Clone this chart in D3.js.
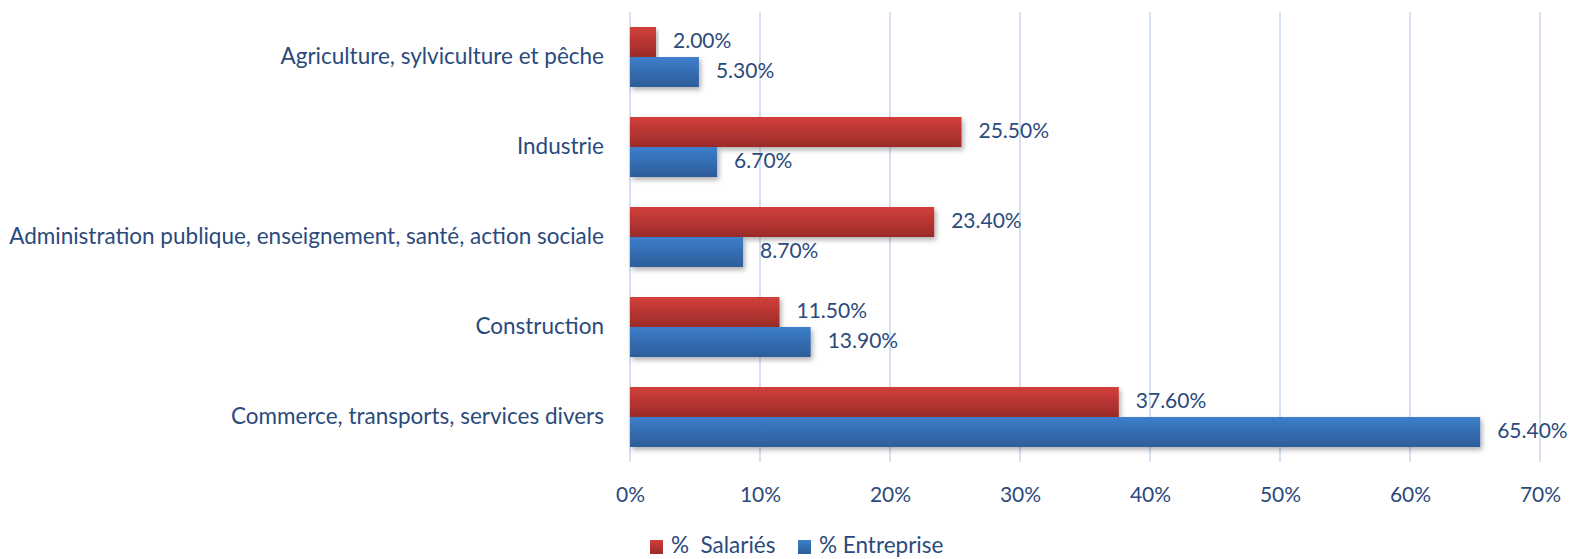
<!DOCTYPE html>
<html>
<head>
<meta charset="utf-8">
<script src="https://cdn.jsdelivr.net/npm/d3@7"></script>
<style>
  html, body { margin: 0; padding: 0; background: #fff; }
  svg { display: block; }
  text { font-family: Lato, "Open Sans", sans-serif; fill: #2b4a7c; }
</style>
</head>
<body>
<svg id="chart" width="1576" height="559"></svg>
<script>
// Sector shares
const categories = [
  "Agriculture, sylviculture et pêche",
  "Industrie",
  "Administration publique, enseignement, santé, action sociale",
  "Construction",
  "Commerce, transports, services divers"
];
const salaries   = [2.0, 25.5, 23.4, 11.5, 37.6];
const entreprise = [5.3, 6.7, 8.7, 13.9, 65.4];
const seriesNames = ["%  Salariés", "% Entreprise"];
const xTicks = [0, 10, 20, 30, 40, 50, 60, 70];

const svg = d3.select("#chart");
const margin = { left: 630, right: 36, top: 12, bottom: 97 };
const W = 1576, H = 559;

const x = d3.scaleLinear().domain([0, 70]).range([margin.left, W - margin.right]);
const y = d3.scaleBand().domain(categories).range([margin.top, H - margin.bottom]).paddingInner(1/3).paddingOuter(1/6);
const inner = d3.scaleBand().domain([0, 1]).range([0, y.bandwidth()]);

const defs = svg.append("defs");
function grad(id, top, bottom) {
  const g = defs.append("linearGradient").attr("id", id).attr("x1", 0).attr("y1", 0).attr("x2", 0).attr("y2", 1);
  g.append("stop").attr("offset", "0%").attr("stop-color", top);
  g.append("stop").attr("offset", "100%").attr("stop-color", bottom);
}
grad("gRed", "#d23f3b", "#9a2b28");
grad("gBlue", "#3d7ecb", "#2d5d9a");
const f = defs.append("filter").attr("id", "shadow").attr("x", "-5%").attr("y", "-20%").attr("width", "115%").attr("height", "160%");
f.append("feDropShadow").attr("dx", 2).attr("dy", 3).attr("stdDeviation", 2.5).attr("flood-color", "#000").attr("flood-opacity", 0.3);

// vertical gridlines
svg.append("g").selectAll("line").data(xTicks).join("line")
  .attr("x1", d => x(d)).attr("x2", d => x(d))
  .attr("y1", margin.top).attr("y2", H - margin.bottom)
  .attr("stroke", "#d5e1f0").attr("stroke-width", 2);

// tick labels
const xAxis = d3.axisBottom(x).tickValues(xTicks).tickFormat(d => d + "%").tickSize(0).tickPadding(0);
const ax = svg.append("g").attr("transform", `translate(0,${H - margin.bottom + 40})`).call(xAxis);
ax.select(".domain").remove();
ax.selectAll("text").attr("fill", "#2b4a7c").style("font-size", "21px").style("font-family", "Lato, sans-serif").attr("dy", "0");

// category labels
svg.append("g").selectAll("text").data(categories).join("text")
  .attr("x", margin.left - 26)
  .attr("y", d => y(d) + y.bandwidth() / 2 + 1)
  .attr("text-anchor", "end").attr("dominant-baseline", "middle")
  .style("font-size", "22.5px")
  .text(d => d);

const series = [
  { values: salaries, fill: "url(#gRed)" },
  { values: entreprise, fill: "url(#gBlue)" }
];

series.forEach((s, si) => {
  const g = svg.append("g");
  g.selectAll("rect").data(categories).join("rect")
    .attr("x", x(0))
    .attr("y", (c) => y(c) + inner(si))
    .attr("width", (c, i) => x(s.values[i]) - x(0))
    .attr("height", inner.bandwidth())
    .attr("fill", s.fill)
    .attr("filter", "url(#shadow)");
  g.selectAll("text").data(categories).join("text")
    .attr("x", (c, i) => x(s.values[i]) + 17)
    .attr("y", c => y(c) + inner(si) + inner.bandwidth() / 2 + 1)
    .attr("dominant-baseline", "middle")
    .style("font-size", "21px")
    .text((c, i) => s.values[i].toFixed(2) + "%");
});

// legend
const legend = svg.append("g").attr("transform", "translate(650,547)");
const legendX = [0, 148];
seriesNames.forEach((n, i) => {
  legend.append("rect").attr("x", legendX[i]).attr("y", -7).attr("width", 13).attr("height", 14)
    .attr("fill", i === 0 ? "url(#gRed)" : "url(#gBlue)");
  legend.append("text").attr("x", legendX[i] + 21).attr("y", 0)
    .attr("dominant-baseline", "middle").style("font-size", "22.5px")
    .style("white-space", "pre").text(n);
});
</script>
</body>
</html>
